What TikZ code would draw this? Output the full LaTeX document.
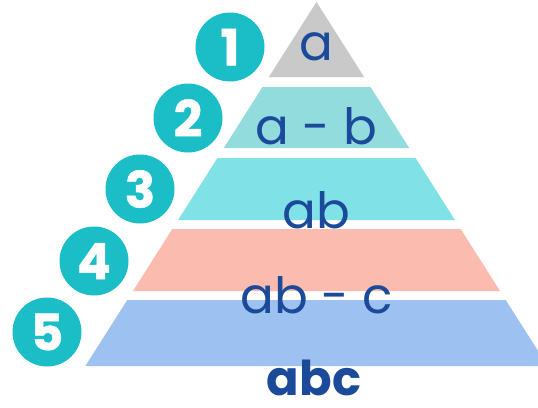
\documentclass[tikz,border=0pt]{standalone}
\usepackage{fontspec}
\setmainfont{Poppins}
\usetikzlibrary{positioning}
\definecolor{tealnum}{HTML}{1BBEC6}
\definecolor{inkblue}{HTML}{1B4A9B}
\definecolor{tiergrey}{HTML}{C9C9C9}
\definecolor{tiermint}{HTML}{92DCDD}
\definecolor{tiercyan}{HTML}{80E2E6}
\definecolor{tiersalmon}{HTML}{FBBBAF}
\definecolor{tierblue}{HTML}{9DC1F1}
\begin{document}
\begin{tikzpicture}[x=1pt,y=-1pt,
  num/.style={circle,fill=tealnum,minimum size=69pt,inner sep=0pt,text=white,
    font=\fontsize{50}{50}\selectfont\bfseries\addfontfeatures{FakeBold=1}},
  lbl/.style={anchor=base,text=inkblue,inner sep=0pt,font=\fontsize{50}{50}\selectfont}]
\useasboundingbox (0,0) rectangle (538,407);
\begin{scope}
\clip (0,0) rectangle (538,407);
\foreach \t/\b/\c in {2/77/tiergrey,87/148/tiermint,158/220/tiercyan,229/291/tiersalmon,300/366/tierblue}
  \fill[\c] ({316.5-(\t-2)*0.635},\t) -- ({316.5+(\t-2)*0.635},\t)
    -- ({316.5+(\b-2)*0.635},\b) -- ({316.5-(\b-2)*0.635},\b) -- cycle;
\end{scope}
\node[num] (n1) at (230,47) {1};
\node[num] (n2) at (188,118) {2};
\node[num] (n3) at (140,189) {3};
\node[num] (n4) at (94,261) {4};
\node[num] (n5) at (47,332) {5};
\node[lbl] (l1) at (316.5,60) {a};
\node[lbl] (l2) at (316.5,144) {a - b};
\node[lbl] (l3) at (316.5,228) {ab};
\node[lbl] (l4) at (316.5,313) {ab - c};
\node[lbl,font=\fontsize{48}{48}\selectfont\bfseries] (l5) at (314,395) {abc};
\end{tikzpicture}
\end{document}
